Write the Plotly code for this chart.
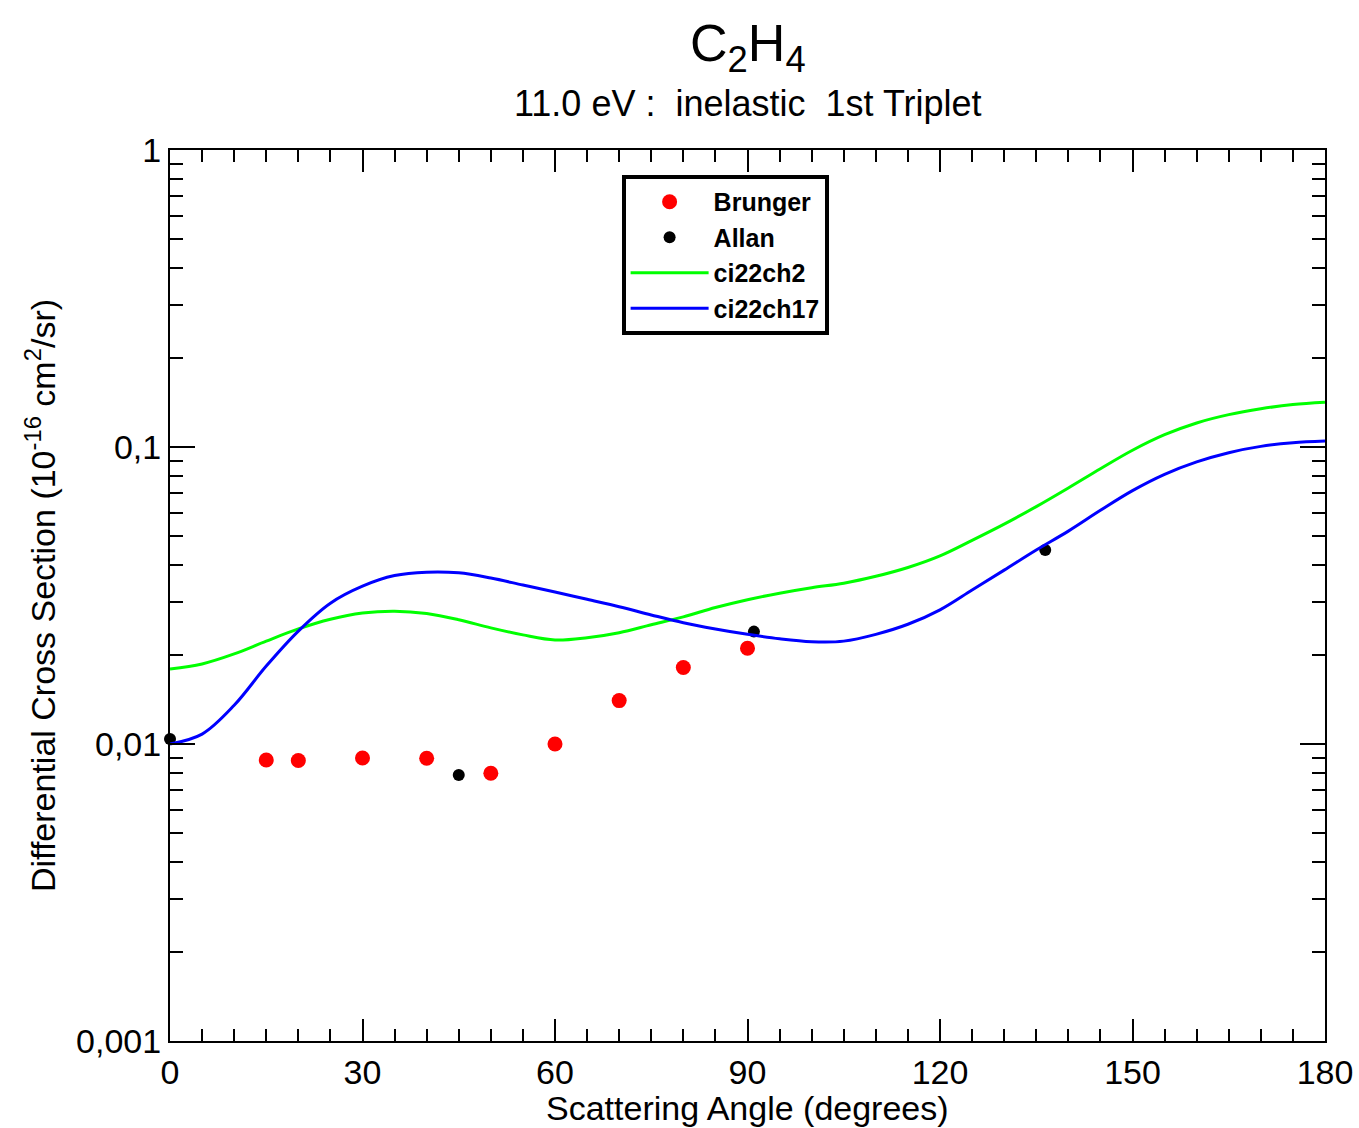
import plotly.graph_objects as go

# Brunger data (red points)
brunger_x = [15, 20, 30, 40, 50, 60, 70, 80, 90]
brunger_y = [0.00883, 0.0088, 0.00897, 0.00895, 0.00797, 0.0100, 0.0140, 0.0181, 0.0210]

# Allan data (black points)
allan_x = [0, 45, 91, 136.4]
allan_y = [0.0104, 0.00787, 0.0239, 0.0450]

# theory curves, read every 5 degrees
angles = list(range(0, 181, 5))
ch2_y = [0.0179, 0.0186, 0.0201, 0.0222, 0.0244, 0.0263, 0.0276, 0.0280, 0.0275, 0.0262,
         0.0246, 0.0233, 0.0224, 0.0228, 0.0237, 0.0252, 0.0268, 0.0288, 0.0306, 0.0322,
         0.0336, 0.0348, 0.0367, 0.0393, 0.0430, 0.0485, 0.0550, 0.0630, 0.0728, 0.0845,
         0.0975, 0.110, 0.1205, 0.1285, 0.1345, 0.1390, 0.1415]
ch17_y = [0.0100, 0.0108, 0.0135, 0.0183, 0.0240, 0.0298, 0.0340, 0.0369, 0.0379, 0.0377,
          0.0362, 0.0343, 0.0325, 0.0307, 0.0290, 0.0272, 0.0256, 0.0244, 0.0234, 0.0226,
          0.0221, 0.0222, 0.0234, 0.0253, 0.0283, 0.0330, 0.0385, 0.0450, 0.0521, 0.0612,
          0.0713, 0.0809, 0.0891, 0.0957, 0.1005, 0.1033, 0.1047]

x_ticks = [0, 30, 60, 90, 120, 150, 180]
y_ticks = [0.001, 0.01, 0.1, 1]
y_labels = ["0,001", "0,01", "0,1", "1"]
y_minor = [m * 10 ** e for e in (-3, -2, -1) for m in range(2, 10)]

FONT = "Liberation Sans, Arial, sans-serif"

fig = go.Figure()

fig.add_trace(go.Scatter(
    x=brunger_x, y=brunger_y, mode="markers", name="Brunger",
    marker=dict(color="#ff0000", size=15), cliponaxis=False
))
fig.add_trace(go.Scatter(
    x=allan_x, y=allan_y, mode="markers", name="Allan",
    marker=dict(color="black", size=12), cliponaxis=False
))
fig.add_trace(go.Scatter(
    x=angles, y=ch2_y, mode="lines", name="ci22ch2",
    line=dict(color="#00ff00", width=3, shape="spline", smoothing=1.0)
))
fig.add_trace(go.Scatter(
    x=angles, y=ch17_y, mode="lines", name="ci22ch17",
    line=dict(color="#0000ff", width=3, shape="spline", smoothing=1.0)
))

fig.update_xaxes(
    range=[0, 180], tickvals=x_ticks, ticks="inside", ticklen=22, tickwidth=2,
    tickcolor="black", showline=True, linecolor="black", linewidth=2, mirror="ticks",
    showgrid=False, zeroline=False, automargin=False, ticklabeloverflow="allow",
    tickfont=dict(size=34, color="black", family=FONT),
    minor=dict(dtick=5, ticks="inside", ticklen=12, tickwidth=2, tickcolor="black", showgrid=False),
)
fig.update_yaxes(
    type="log", range=[-3, 0], tickvals=y_ticks, ticktext=y_labels, ticks="inside",
    ticklen=25, tickwidth=2, tickcolor="black", showline=True, linecolor="black",
    linewidth=2, mirror="ticks", showgrid=False, zeroline=False, automargin=False,
    tickfont=dict(size=34, color="black", family=FONT),
    minor=dict(tickvals=y_minor, ticks="inside", ticklen=13, tickwidth=2, tickcolor="black", showgrid=False),
    title=dict(text="Differential Cross Section (10<sup>-16</sup> cm<sup>2</sup>/sr)",
               font=dict(size=34, color="black", family=FONT), standoff=10),
)

# titles as annotations so they sit exactly where the reference has them
fig.add_annotation(
    text="C<sub>2</sub>H<sub>4</sub>", xref="paper", yref="paper", x=0.5, y=1.0,
    yanchor="middle", yshift=103, showarrow=False, font=dict(size=52, color="black", family=FONT)
)
fig.add_annotation(
    text="11.0 eV :  inelastic  1st Triplet", xref="paper", yref="paper", x=0.5, y=1.0,
    yanchor="middle", yshift=47, showarrow=False, font=dict(size=36, color="black", family=FONT)
)
fig.add_annotation(
    text="Scattering Angle (degrees)", xref="paper", yref="paper", x=0.5, y=0.0,
    yanchor="middle", yshift=-67, showarrow=False, font=dict(size=34, color="black", family=FONT)
)

fig.update_layout(
    width=1359, height=1128,
    margin=dict(l=170, r=34, t=150, b=87),
    plot_bgcolor="white", paper_bgcolor="white",
    showlegend=True,
    legend=dict(
        x=0.391, y=0.972, xanchor="left", yanchor="top",
        bgcolor="white", bordercolor="black", borderwidth=4,
        font=dict(size=25, color="black", family=FONT, weight="bold"),
        itemwidth=78, tracegroupgap=0,
    ),
)

# drop the default 8px body margin so the figure fills the window
fig.write_html(
    "out.html",
    config={"displayModeBar": False},
    post_script="document.body.style.margin='0';document.body.style.overflow='hidden';",
)
